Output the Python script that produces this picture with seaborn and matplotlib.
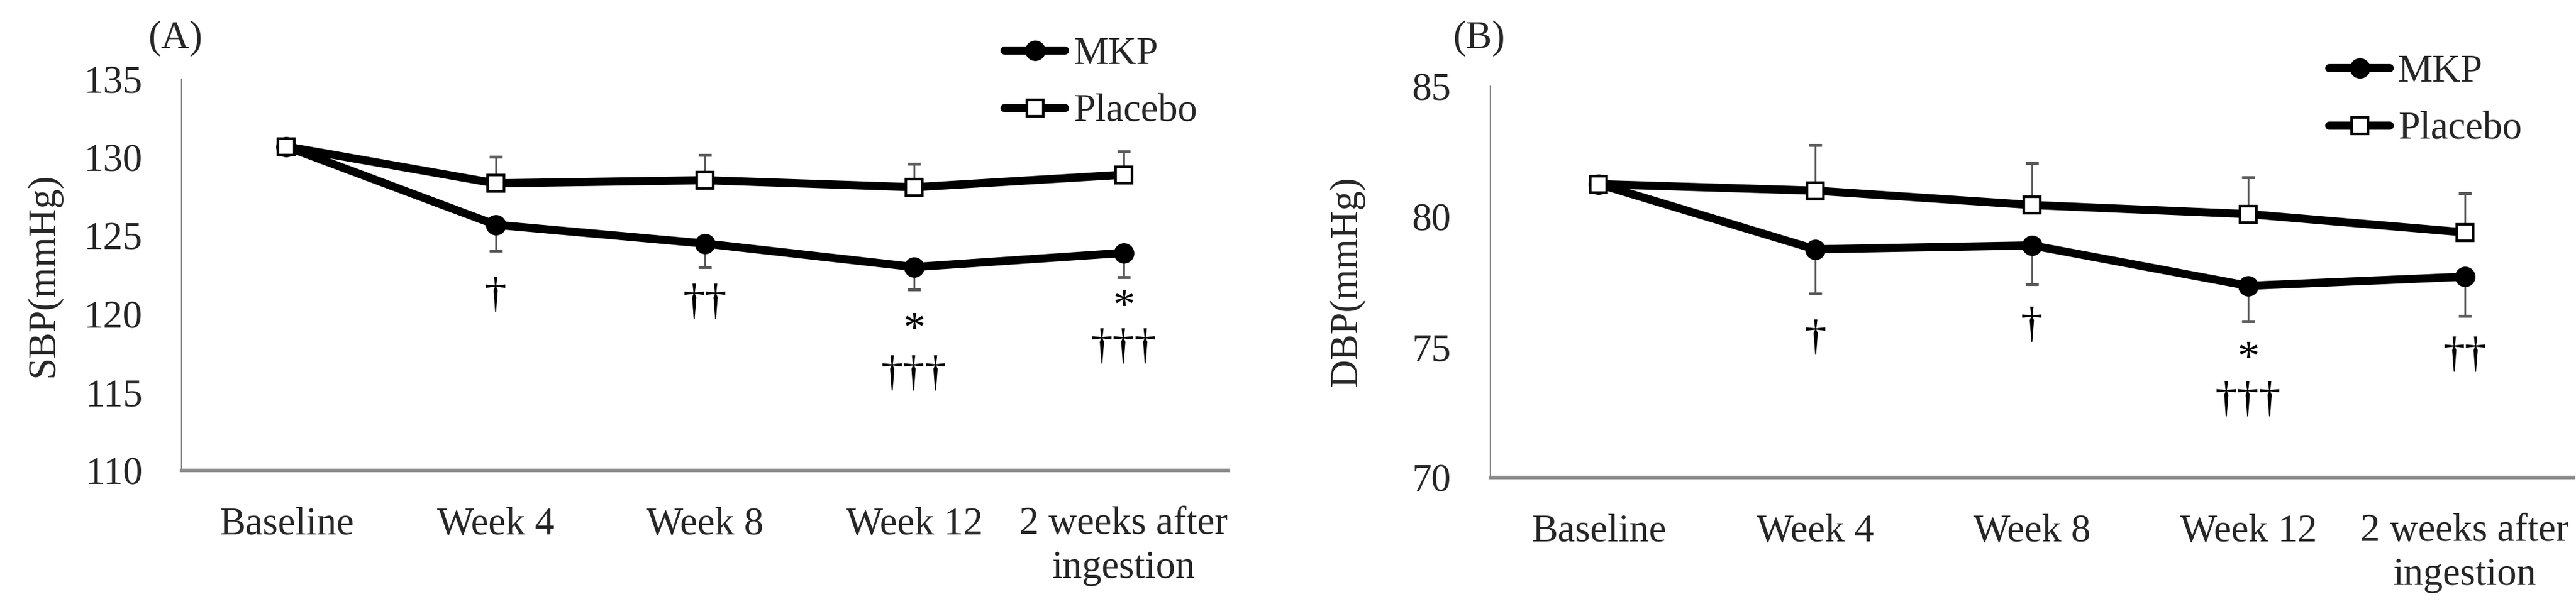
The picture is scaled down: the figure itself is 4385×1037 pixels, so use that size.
import numpy as np
import pandas as pd
import seaborn as sns
import matplotlib
matplotlib.use("Agg")
from matplotlib import pyplot as plt
from matplotlib.lines import Line2D

# x categories
timepoints = ["Baseline", "Week 4", "Week 8", "Week 12", "2 weeks after\ningestion"]

# (A) systolic blood pressure, mean and one-sided SE
sbp_mkp = [130.7, 125.7, 124.5, 123.0, 123.9]
sbp_mkp_se = [0, 1.65, 1.5, 1.45, 1.55]
sbp_placebo = [130.7, 128.35, 128.55, 128.1, 128.9]
sbp_placebo_se = [0, 1.7, 1.6, 1.5, 1.5]

# (B) diastolic blood pressure
dbp_mkp = [81.25, 78.75, 78.9, 77.35, 77.7]
dbp_mkp_se = [0, 1.7, 1.5, 1.35, 1.5]
dbp_placebo = [81.25, 81.0, 80.45, 80.1, 79.4]
dbp_placebo_se = [0, 1.75, 1.6, 1.4, 1.5]

# significance marks: category index, symbol, y position (data units)
sbp_sig_idx = [1, 2, 3, 3, 4, 4]
sbp_sig_txt = ["†", "††", "*", "†††", "*", "†††"]
sbp_sig_y = [121.15, 120.7, 118.9, 116.1, 120.35, 117.85]

dbp_sig_idx = [1, 2, 3, 3, 4]
dbp_sig_txt = ["†", "†", "*", "†††", "††"]
dbp_sig_y = [75.3, 75.8, 74.5, 72.95, 74.65]

FS = 24
SIG_FS = 27
sns.set_theme(style="white")
plt.rcParams["font.family"] = ["Liberation Serif", "DejaVu Serif"]

ERR_COLOR = "#595959"
SPINE_COLOR = "#8c8c8c"


def draw_panel(ax, mkp, mkp_se, placebo, placebo_se, ylim, ylabel,
               sig_idx, sig_txt, sig_y):
    xpos = np.arange(len(timepoints))
    df = pd.DataFrame({
        "x": np.concatenate([xpos, xpos]),
        "value": mkp + placebo,
        "group": ["MKP"] * len(xpos) + ["Placebo"] * len(xpos),
    })

    # one-sided error bars: placebo upward, MKP downward
    m = [i for i in xpos if mkp_se[i] > 0]
    ax.errorbar([xpos[i] for i in m], [mkp[i] for i in m],
                yerr=[[mkp_se[i] for i in m], [0] * len(m)],
                fmt="none", ecolor=ERR_COLOR, elinewidth=1.1, capsize=4,
                capthick=1.8, zorder=1)
    p = [i for i in xpos if placebo_se[i] > 0]
    ax.errorbar([xpos[i] for i in p], [placebo[i] for i in p],
                yerr=[[0] * len(p), [placebo_se[i] for i in p]],
                fmt="none", ecolor=ERR_COLOR, elinewidth=1.1, capsize=4,
                capthick=1.8, zorder=1)

    sns.lineplot(data=df[df["group"] == "MKP"], x="x", y="value", ax=ax,
                 color="black", linewidth=5, marker="o", markersize=11.5,
                 markerfacecolor="black", markeredgecolor="black",
                 markeredgewidth=1, legend=False)
    sns.lineplot(data=df[df["group"] == "Placebo"], x="x", y="value", ax=ax,
                 color="black", linewidth=5, marker="s", markersize=10,
                 markerfacecolor="white", markeredgecolor="black",
                 markeredgewidth=1.6, legend=False)

    for i, t, y in zip(sig_idx, sig_txt, sig_y):
        ax.text(i, y, t, ha="center", va="center", fontsize=SIG_FS,
                color="black")

    ax.set_xlim(-0.5, len(timepoints) - 0.5)
    ax.set_ylim(*ylim)
    ax.set_yticks(np.arange(ylim[0], ylim[1] + 1, 5))
    ax.set_xticks(xpos)
    ax.set_xticklabels(timepoints, fontsize=FS, linespacing=1.3)
    ax.tick_params(axis="y", labelsize=FS, length=0, pad=24)
    ax.tick_params(axis="x", length=0, pad=22)
    ax.set_xlabel("")
    ax.set_ylabel(ylabel, fontsize=FS)
    for s in ["top", "right"]:
        ax.spines[s].set_visible(False)
    ax.spines["left"].set_color(SPINE_COLOR)
    ax.spines["left"].set_linewidth(0.8)
    ax.spines["bottom"].set_color(SPINE_COLOR)
    ax.spines["bottom"].set_linewidth(2.2)


fig = plt.figure(figsize=(21.925, 5.185), dpi=200)
ax_a = fig.add_axes([0.0705, 0.2276, 0.4063, 0.6422])
ax_b = fig.add_axes([0.5786, 0.2160, 0.4203, 0.6422])

draw_panel(ax_a, sbp_mkp, sbp_mkp_se, sbp_placebo, sbp_placebo_se,
           (110, 135), "SBP(mmHg)", sbp_sig_idx, sbp_sig_txt, sbp_sig_y)
draw_panel(ax_b, dbp_mkp, dbp_mkp_se, dbp_placebo, dbp_placebo_se,
           (70, 85), "DBP(mmHg)", dbp_sig_idx, dbp_sig_txt, dbp_sig_y)

ax_a.yaxis.set_label_coords(-0.115, 0.5)
ax_b.yaxis.set_label_coords(-0.116, 0.5)

fig.text(0.0680, 0.937, "(A)", fontsize=FS, ha="center", va="center")
fig.text(0.5740, 0.937, "(B)", fontsize=FS, ha="center", va="center")

handles = [
    Line2D([], [], color="black", lw=5, marker="o", ms=11.5,
           mfc="black", mec="black", solid_capstyle="round"),
    Line2D([], [], color="black", lw=5, marker="s", ms=10,
           mfc="white", mec="black", mew=1.6, solid_capstyle="round"),
]
for ax, anchor in [(ax_a, (0.3900, 0.940)), (ax_b, (0.9042, 0.911))]:
    ax.legend(handles, ["MKP", "Placebo"], loc="upper left",
              bbox_to_anchor=anchor, bbox_transform=fig.transFigure,
              frameon=False, fontsize=FS, handlelength=1.55,
              handletextpad=0.2, labelspacing=0.55, borderpad=0,
              borderaxespad=0)

fig.savefig("out.png", dpi=200)
